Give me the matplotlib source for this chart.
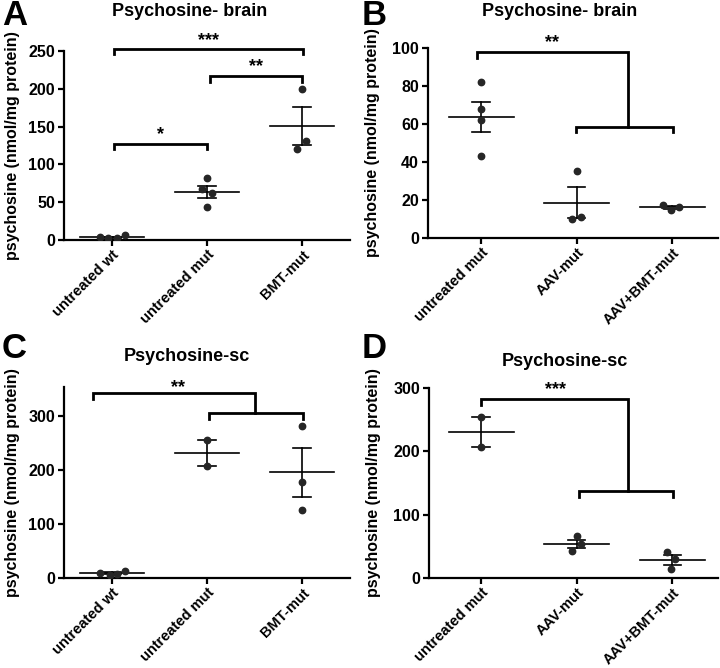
import numpy as np
import matplotlib.pyplot as plt

plt.rcParams['font.family'] = ['Liberation Sans', 'DejaVu Sans']
plt.rcParams['font.weight'] = 'bold'

# --- data (nmol/mg protein) ---
cats_a = ["untreated wt", "untreated mut", "BMT-mut"]
a_wt = [4, 2, 3, 6]
a_mut = [82, 68, 62, 43]
a_bmt = [200, 131, 120]

cats_b = ["untreated mut", "AAV-mut", "AAV+BMT-mut"]
b_mut = [82, 68, 62, 43]
b_aav = [35, 10, 11]
b_aavbmt = [17.4, 14.7, 16.5]

cats_c = ["untreated wt", "untreated mut", "BMT-mut"]
c_wt = [10, 5, 7, 13]
c_mut = [256, 208]
c_bmt = [283, 179, 126]

cats_d = ["untreated mut", "AAV-mut", "AAV+BMT-mut"]
d_mut = [254, 207]
d_aav = [66, 53, 42]
d_aavbmt = [41, 30, 14]

# horizontal scatter of the dots (fraction of category spacing)
jit_a = [[-0.13, -0.04, 0.05, 0.14], [0, -0.05, 0.05, 0], [0, 0.045, -0.05]]
jit_b = [[0, 0, 0, 0], [0, -0.045, 0.05], [-0.1, -0.01, 0.07]]
jit_c = [[-0.13, -0.02, 0.05, 0.14], [0, 0], [0, 0, 0]]
jit_d = [[0, 0], [0, 0.05, -0.045], [-0.055, 0.03, -0.01]]

W, H = 720, 668
fig = plt.figure(figsize=(W / 100, H / 100), dpi=100)


def px_axes(left, right, top, bottom):
    return fig.add_axes([left / W, 1 - bottom / H, (right - left) / W, (bottom - top) / H])


def draw_panel(ax, cats, groups, jit, ylim, yticks, xlim):
    for i, (vals, jj) in enumerate(zip(groups, jit)):
        vals = np.array(vals, dtype=float)
        m = vals.mean()
        sem = vals.std(ddof=1) / np.sqrt(len(vals))
        ax.plot(i + np.array(jj), vals, 'o', color='#262626', ms=4.6, zorder=3)
        ax.plot([i - 0.34, i + 0.34], [m, m], color='black', lw=1.2)
        ax.plot([i, i], [m - sem, m + sem], color='black', lw=1.2)
        for e in (m - sem, m + sem):
            ax.plot([i - 0.09, i + 0.09], [e, e], color='black', lw=1.2)
    ax.set_xlim(*xlim)
    ax.set_ylim(*ylim)
    ax.set_yticks(yticks)
    ax.set_xticks(range(len(cats)))
    ax.set_xticklabels(cats, rotation=45, ha='right', va='top', rotation_mode='anchor', fontsize=10.5)
    for s in ('top', 'right'):
        ax.spines[s].set_visible(False)
    for s in ('left', 'bottom'):
        ax.spines[s].set_linewidth(1.6)
    ax.tick_params(width=1.6, length=4.5, labelsize=11.5, pad=2)
    ax.tick_params(axis='x', pad=1, labelsize=10.5)
    ax.set_ylabel("psychosine (nmol/mg protein)", fontsize=11.5, fontweight='bold')


def bracket(ax, x1, x2, y, drop, text=None, ty=None):
    ax.plot([x1, x1, x2, x2], [y - drop, y, y, y - drop], color='black', lw=2, clip_on=False,
            solid_joinstyle='miter')
    if text:
        ax.text((x1 + x2) / 2, ty, text, ha='center', va='center', fontsize=13, clip_on=False)


def split_bracket(ax, x0, xm, x1, x2, ytop, ylow, drop, text, tx, ty):
    ax.plot([x0, x0, xm, xm], [ytop - drop, ytop, ytop, ylow], color='black', lw=2,
            clip_on=False, solid_joinstyle='miter')
    ax.plot([x1, x1, x2, x2], [ylow - drop, ylow, ylow, ylow - drop], color='black', lw=2,
            clip_on=False, solid_joinstyle='miter')
    ax.text(tx, ty, text, ha='center', va='center', fontsize=13, clip_on=False)


axA = px_axes(64, 350, 51, 240)
draw_panel(axA, cats_a, [a_wt, a_mut, a_bmt], jit_a, (0, 250), range(0, 251, 50), (-0.505, 2.505))
bracket(axA, 0.02, 1.0, 127, 7, '*', 139)
bracket(axA, 0.02, 2.01, 252, 6, '***', 264)
bracket(axA, 1.03, 2.0, 217, 8, '**', 229)

axB = px_axes(428, 718, 48, 238)
draw_panel(axB, cats_b, [b_mut, b_aav, b_aavbmt], jit_b, (0, 100), range(0, 101, 20), (-0.555, 2.48))
split_bracket(axB, -0.04, 1.54, 0.99, 2.01, 97.9, 58.6, 3, '**', 0.74, 103)

axC = px_axes(64, 350, 387.3, 578)
draw_panel(axC, cats_c, [c_wt, c_mut, c_bmt], jit_c, (0, 354), [0, 100, 200, 300], (-0.505, 2.505))
split_bracket(axC, -0.2, 1.5, 1.02, 2.01, 342.6, 306, 10, '**', 0.7, 353)

axD = px_axes(429, 718, 388, 578)
draw_panel(axD, cats_d, [d_mut, d_aav, d_aavbmt], jit_d, (0, 300), [0, 100, 200, 300], (-0.545, 2.48))
split_bracket(axD, 0, 1.54, 1.02, 2.01, 282.6, 137, 9, '***', 0.78, 297)

for ax in (axA, axC):
    ax.yaxis.set_label_coords(-0.154, 0.5)
for ax in (axB, axD):
    ax.yaxis.set_label_coords(-0.166, 0.5)

# titles and panel letters (pixel positions)
titles = [("Psychosine- brain", 190, 16), ("Psychosine- brain", 560, 16),
          ("Psychosine-sc", 187, 361), ("Psychosine-sc", 565, 366)]
for t, x, y in titles:
    fig.text(x / W, 1 - y / H, t, ha='center', va='baseline', fontsize=13, fontweight='bold')
letters = [("A", 2, 25), ("B", 362, 25), ("C", 2, 358), ("D", 362, 358)]
for t, x, y in letters:
    fig.text(x / W, 1 - y / H, t, ha='left', va='baseline', fontsize=25, fontweight='bold')

fig.savefig("out.png", dpi=100)
